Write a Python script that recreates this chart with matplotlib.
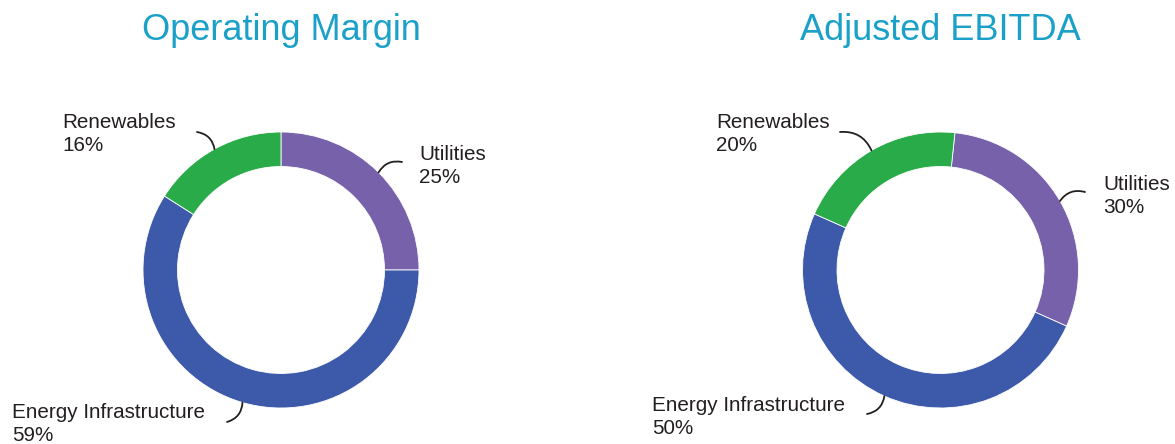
import numpy as np
import matplotlib
matplotlib.use("Agg")
import matplotlib.pyplot as plt

plt.rcParams['font.family'] = ['Liberation Sans', 'DejaVu Sans']

# data
segments = ['Utilities', 'Energy Infrastructure', 'Renewables']
operating_margin = [25, 59, 16]
adjusted_ebitda = [30, 50, 20]
titles = ['Operating Margin', 'Adjusted EBITDA']
colors = ['#7761ab', '#3d59a9', '#29ab4a']
title_color = '#1ba1c9'
text_color = '#231f20'

W, H = 1175, 444
R = 138  # outer radius in px

fig = plt.figure(figsize=(W / 100, H / 100), dpi=100)


def make_ax(cx, cy):
    # axes spanning exactly one radius around centre (pixel coords, y from top)
    return fig.add_axes([(cx - R) / W, (H - cy - R) / H, 2 * R / W, 2 * R / H])


def to_data(px, py, cx, cy):
    return ((px - cx) / R, (cy - py) / R)


charts = [
    dict(vals=operating_margin, title=titles[0], cx=281, cy=270, start=90,
         # text left x, text centre y, leader start, arc rad
         text=[(419, 166), (12, 424), (62, 134)],
         lead=[(402, 162), (227, 422), (197, 132)],
         rad=[0.35, 0.35, -0.35]),
    dict(vals=adjusted_ebitda, title=titles[1], cx=940.5, cy=270, start=84,
         text=[(1103, 196), (652, 417), (716, 134)],
         lead=[(1085, 192), (867, 414), (840, 132)],
         rad=[0.35, 0.35, -0.35]),
]

for ch in charts:
    ax = make_ax(ch['cx'], ch['cy'])
    wedges, _ = ax.pie(ch['vals'], colors=colors, startangle=ch['start'],
                       counterclock=False, radius=1,
                       wedgeprops=dict(width=0.25, edgecolor='white', linewidth=0.6))
    ax.set_xlim(-1, 1)
    ax.set_ylim(-1, 1)
    ax.set_axis_off()

    for i, w in enumerate(wedges):
        mid = np.deg2rad((w.theta1 + w.theta2) / 2)
        end = (np.cos(mid), np.sin(mid))
        sx, sy = to_data(*ch['lead'][i], ch['cx'], ch['cy'])
        ax.annotate('', xy=end, xytext=(sx, sy),
                    arrowprops=dict(arrowstyle='-', color=text_color, lw=1.3,
                                    shrinkA=0, shrinkB=0,
                                    connectionstyle='arc3,rad=%s' % ch['rad'][i]),
                    annotation_clip=False)
        tx, ty = to_data(*ch['text'][i], ch['cx'], ch['cy'])
        ax.text(tx, ty, '%s\n%d%%' % (segments[i], ch['vals'][i]),
                ha='left', va='center', fontsize=14.9, color=text_color,
                linespacing=1.25, clip_on=False)

    fig.text(ch['cx'] / W, 1 - 40 / H, ch['title'], ha='center', va='baseline',
             fontsize=26, color=title_color)

fig.savefig('out.png', dpi=100)
